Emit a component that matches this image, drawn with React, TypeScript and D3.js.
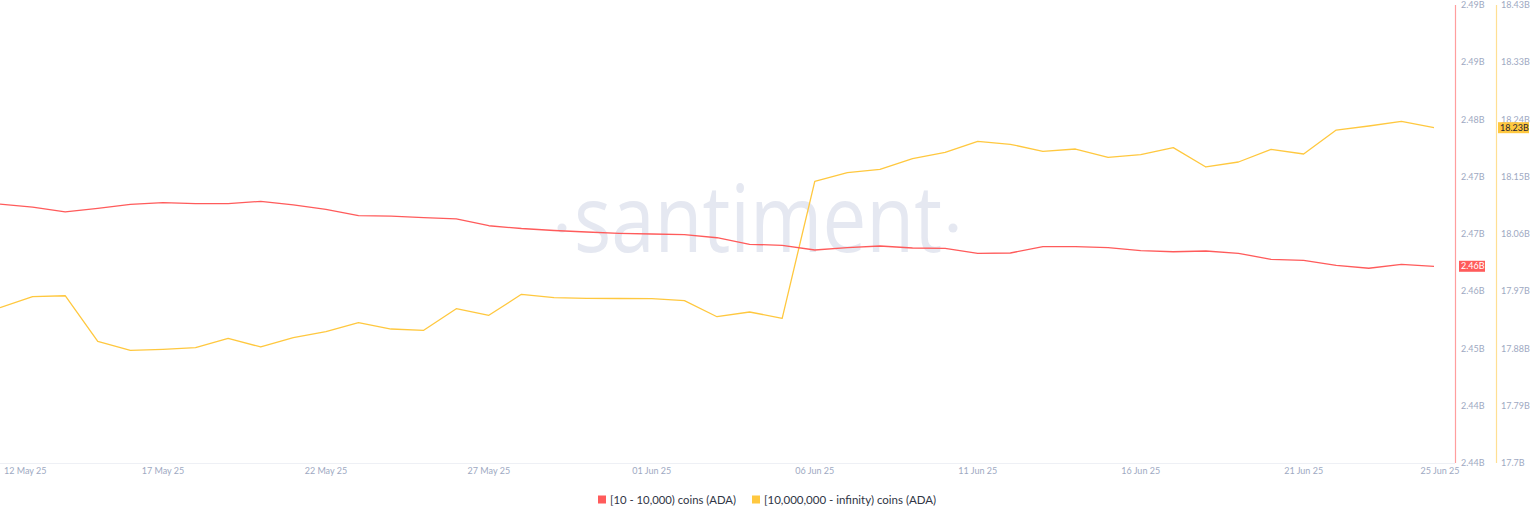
import React from 'react'
import * as d3 from 'd3'

// daily values, 12 May 25 .. 25 Jun 25
const startDate = '2025-05-12'

const smallHolders: number[] = [
  2.46937, 2.46899, 2.46837, 2.46883, 2.46933, 2.46954, 2.46941, 2.46941, 2.46971, 2.46925,
  2.4687, 2.4679, 2.46786, 2.46765, 2.46749, 2.46664, 2.46629, 2.46604, 2.46585, 2.46569,
  2.4656, 2.46551, 2.46513, 2.4643, 2.46418, 2.46359, 2.46388, 2.46409, 2.46384, 2.4638,
  2.46317, 2.46321, 2.464, 2.464, 2.46388, 2.4635, 2.46337, 2.46346, 2.46317, 2.46242,
  2.46229, 2.46166, 2.46129, 2.46179, 2.46154,
]

const whales: number[] = [
  17.9453, 17.9628, 17.9643, 17.892, 17.8777, 17.8793, 17.8819, 17.8968, 17.883, 17.8977,
  17.9072, 17.9215, 17.9115, 17.9095, 17.9437, 17.9333, 17.9666, 17.9612, 17.9602, 17.9599,
  17.9596, 17.9564, 17.931, 17.9385, 17.9285, 18.1458, 18.1594, 18.1648, 18.1819, 18.1915,
  18.2092, 18.2045, 18.1934, 18.197, 18.1838, 18.188, 18.1991, 18.1685, 18.1764, 18.1965,
  18.1891, 18.2271, 18.2335, 18.2409, 18.2308,
]

const xTickLabels = ['12 May 25', '17 May 25', '22 May 25', '27 May 25', '01 Jun 25', '06 Jun 25', '11 Jun 25', '16 Jun 25', '21 Jun 25', '25 Jun 25']
const xTickDays = [0, 5, 10, 15, 20, 25, 30, 35, 40, 44]

const redDomain: [number, number] = [2.4368, 2.4944]
const redTickLabels = ['2.44B', '2.44B', '2.45B', '2.46B', '2.47B', '2.47B', '2.48B', '2.49B', '2.49B']
const yellowDomain: [number, number] = [17.699, 18.4254]
const yellowTickLabels = ['17.7B', '17.79B', '17.88B', '17.97B', '18.06B', '18.15B', '18.24B', '18.33B', '18.43B']

const seriesNames = ['[10 - 10,000) coins (ADA)', '[10,000,000 - infinity) coins (ADA)']

const RED = '#ff5b5b'
const YELLOW = '#ffc83f'
const AXIS_TEXT = '#9ea9c2'
const WATERMARK = '#e5e8f1'

const W = 1536
const H = 520
const plot = { left: 0, right: 1434, top: 5, bottom: 463 }

export default function App() {
  const start = d3.timeParse('%Y-%m-%d')(startDate) as Date
  const dates = smallHolders.map((_, i) => d3.timeDay.offset(start, i))

  const x = d3.scaleTime()
    .domain([dates[0], dates[dates.length - 1]])
    .range([plot.left, plot.right])

  const yRed = d3.scaleLinear().domain(redDomain).range([plot.bottom, plot.top])
  const yYellow = d3.scaleLinear().domain(yellowDomain).range([plot.bottom, plot.top])

  const redLine = d3.line<number>()
    .x((_, i) => x(dates[i]))
    .y(d => yRed(d))
  const yellowLine = d3.line<number>()
    .x((_, i) => x(dates[i]))
    .y(d => yYellow(d))

  const redTicks = d3.range(redTickLabels.length).map(i =>
    redDomain[0] + (i * (redDomain[1] - redDomain[0])) / (redTickLabels.length - 1))
  const yellowTicks = d3.range(yellowTickLabels.length).map(i =>
    yellowDomain[0] + (i * (yellowDomain[1] - yellowDomain[0])) / (yellowTickLabels.length - 1))

  const redAxisX = 1455
  const yellowAxisX = 1496

  const lastRed = smallHolders[smallHolders.length - 1]
  const lastYellow = whales[whales.length - 1]

  return (
    <svg width={W} height={H} style={{ position: 'absolute', left: 0, top: 0, fontFamily: 'Lato, sans-serif' }}>
      <rect width={W} height={H} fill="#fff" />

      {/* watermark */}
      <g fill={WATERMARK}>
        <circle cx={562} cy={228} r={4.5} />
        <text x={574} y={252} fontFamily="'Open Sans', sans-serif" fontWeight={500}
          fontSize={93} textLength={368} lengthAdjust="spacingAndGlyphs">santiment</text>
        <circle cx={953} cy={228} r={4.5} />
      </g>

      {/* x axis line */}
      <line x1={0} x2={redAxisX} y1={plot.bottom + 0.5} y2={plot.bottom + 0.5} stroke="#eef0f5" strokeWidth={1} />

      {/* x tick labels */}
      {xTickDays.map((d, i) => {
        const first = i === 0
        const last = i === xTickDays.length - 1
        return (
          <text key={i} x={x(dates[d]) + (first ? 4 : last ? 6 : 0)} y={474} fontSize={9} fill={AXIS_TEXT}
            textAnchor={first ? 'start' : 'middle'}>{xTickLabels[i]}</text>
        )
      })}

      {/* series */}
      <path d={yellowLine(whales) ?? ''} fill="none" stroke={YELLOW} strokeWidth={1.3} strokeLinejoin="round" />
      <path d={redLine(smallHolders) ?? ''} fill="none" stroke={RED} strokeWidth={1.3} strokeLinejoin="round" />

      {/* right axes */}
      <line x1={redAxisX + 0.5} x2={redAxisX + 0.5} y1={plot.top} y2={plot.bottom} stroke="#ff9e9e" strokeWidth={1.2} />
      <line x1={yellowAxisX + 0.5} x2={yellowAxisX + 0.5} y1={plot.top} y2={plot.bottom} stroke="#ffdf93" strokeWidth={1.2} />

      {redTicks.map((t, i) => (
        <text key={'r' + i} x={redAxisX + 6} y={yRed(t)} dy="0.35em" fontSize={9} fill={AXIS_TEXT}>{redTickLabels[i]}</text>
      ))}
      {yellowTicks.map((t, i) => (
        <text key={'y' + i} x={yellowAxisX + 5} y={yYellow(t)} dy="0.35em" fontSize={9} fill={AXIS_TEXT}>{yellowTickLabels[i]}</text>
      ))}

      {/* last value badges */}
      <rect x={redAxisX + 4} y={yRed(lastRed) - 5.5} width={26} height={11} fill={RED} />
      <text x={redAxisX + 6} y={yRed(lastRed)} dy="0.35em" fontSize={9} fill="#fff">{d3.format('.2f')(lastRed)}B</text>
      <rect x={yellowAxisX + 2} y={yYellow(lastYellow) - 5.5} width={31} height={11} fill={YELLOW} />
      <text x={yellowAxisX + 4} y={yYellow(lastYellow)} dy="0.35em" fontSize={9} fill="#1f2433">{d3.format('.2f')(lastYellow)}B</text>

      {/* legend */}
      <g transform="translate(598,500)">
        <rect x={0} y={-4.5} width={8} height={8} fill={RED} />
        <text x={12} y={0} dy="0.35em" fontSize={11.3} fill="#2f3545">{seriesNames[0]}</text>
        <rect x={154} y={-4.5} width={8} height={8} fill={YELLOW} />
        <text x={166} y={0} dy="0.35em" fontSize={11.5} fill="#2f3545">{seriesNames[1]}</text>
      </g>
    </svg>
  )
}
